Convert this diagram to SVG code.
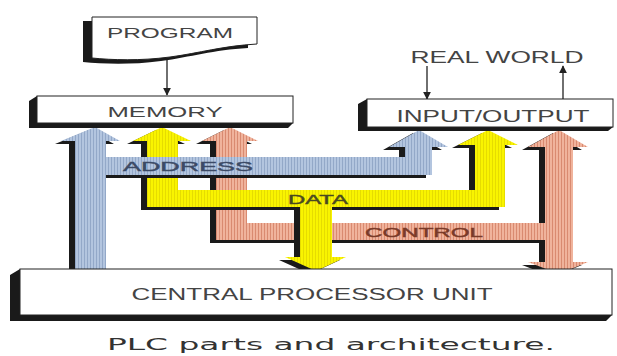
<svg xmlns="http://www.w3.org/2000/svg" width="617" height="356" viewBox="0 0 617 356">
<defs>
<pattern id="pBlue" patternUnits="userSpaceOnUse" width="3" height="10"><rect width="3" height="10" fill="#b3c5df"/><rect width="1" height="10" fill="#93a8c8"/></pattern>
<pattern id="pYel" patternUnits="userSpaceOnUse" width="3" height="10"><rect width="3" height="10" fill="#f9f400"/><rect width="1" height="10" fill="#e6dc00"/></pattern>
<pattern id="pSal" patternUnits="userSpaceOnUse" width="3" height="10"><rect width="3" height="10" fill="#f0b39c"/><rect width="1" height="10" fill="#d98a70"/></pattern>
<marker id="ah" viewBox="0 0 10 10" refX="9" refY="5" markerWidth="8" markerHeight="8" markerUnits="userSpaceOnUse" orient="auto"><path d="M0,0 L10,5 L0,10 Z" fill="#222"/></marker>
</defs>
<style>
.face{fill:#fff;stroke:#222;stroke-width:1}
.shd{fill:#1a1a1a}
.lbl{font-family:"Liberation Sans",Arial,sans-serif;fill:#444;text-anchor:middle}
.bus{font-family:"Liberation Sans",Arial,sans-serif;text-anchor:middle;stroke-width:0.4}
.ln{stroke:#222;stroke-width:1.3;fill:none}
</style>
<rect width="617" height="356" fill="#fff"/>

<g id="connectors">
  <g id="control-bus">
    <polygon class="shd" transform="translate(-6,3)" points="230,127 258,141 247,141 247,223 545,223 545,147 528,147 559,130 588,147 573,147 573,262 588,262 559,274 528,262 545,262 545,240 216,240 216,141 202,141"/>
    <polygon fill="url(#pSal)" points="230,127 258,141 247,141 247,223 545,223 545,147 528,147 559,130 588,147 573,147 573,262 588,262 559,274 528,262 545,262 545,240 216,240 216,141 202,141"/>
    <text class="bus" x="424" y="237" font-size="13" fill="#7a3a28" stroke="#7a3a28" textLength="118" lengthAdjust="spacingAndGlyphs">CONTROL</text>
  </g>
  <g id="data-bus">
    <polygon class="shd" transform="translate(-6,3)" points="162,127 191,141 178,141 178,190 475,190 475,145 458,145 488,130 518,145 505,145 505,207 332,207 332,257 346,257 316,271 285,257 300,257 300,207 147,207 147,141 133,141"/>
    <polygon fill="url(#pYel)" points="162,127 191,141 178,141 178,190 475,190 475,145 458,145 488,130 518,145 505,145 505,207 332,207 332,257 346,257 316,271 285,257 300,257 300,207 147,207 147,141 133,141"/>
    <text class="bus" x="318" y="204" font-size="12" fill="#4a4a20" stroke="#4a4a20" textLength="60" lengthAdjust="spacingAndGlyphs">DATA</text>
  </g>
  <g id="address-bus">
    <polygon class="shd" transform="translate(-6,3)" points="95,127 120,141 106,141 106,157 405,157 405,147 389,147 419,130 448,147 432,147 432,175 106,175 106,269 75,269 75,141 61,141"/>
    <polygon fill="url(#pBlue)" points="95,127 120,141 106,141 106,157 405,157 405,147 389,147 419,130 448,147 432,147 432,175 106,175 106,269 75,269 75,141 61,141"/>
    <text class="bus" x="188" y="171" font-size="13" fill="#3c4a66" stroke="#3c4a66" textLength="130" lengthAdjust="spacingAndGlyphs">ADDRESS</text>
  </g>
  <line class="ln" x1="167" y1="60" x2="167" y2="95" marker-end="url(#ah)"/>
  <line class="ln" x1="427" y1="66" x2="427" y2="99" marker-end="url(#ah)"/>
  <line class="ln" x1="563" y1="99" x2="563" y2="66" marker-end="url(#ah)"/>
</g>

<g id="program">
  <path class="shd" transform="translate(-9,4)" d="M92,17 L257,17 L257,44 C222,46 200,53 170,57 C140,61 112,60 92,58 Z"/>
  <path class="face" d="M92,17 L257,17 L257,44 C222,46 200,53 170,57 C140,61 112,60 92,58 Z"/>
  <text class="lbl" x="170" y="38" font-size="14" textLength="126" lengthAdjust="spacingAndGlyphs">PROGRAM</text>
</g>

<g id="memory">
  <polygon class="shd" points="29,101 37,96 37,123 293,123 288,128 29,128"/>
  <rect class="face" x="37" y="96" width="256" height="27"/>
  <text class="lbl" x="165" y="117" font-size="14" textLength="115" lengthAdjust="spacingAndGlyphs">MEMORY</text>
</g>

<g id="real-world">
  <text class="lbl" x="497" y="63" font-size="16" textLength="173" lengthAdjust="spacingAndGlyphs">REAL WORLD</text>
</g>

<g id="io">
  <polygon class="shd" points="358,104 367,99 367,127 613,127 608,131 358,131"/>
  <rect class="face" x="367" y="99" width="246" height="28"/>
  <text class="lbl" x="493" y="122" font-size="17" textLength="193" lengthAdjust="spacingAndGlyphs">INPUT/OUTPUT</text>
</g>

<g id="cpu">
  <polygon class="shd" points="10,275 20,269 20,315 612,315 606,321 10,321"/>
  <rect class="face" x="20" y="269" width="592" height="46"/>
  <text class="lbl" x="312" y="300" font-size="16" textLength="361" lengthAdjust="spacingAndGlyphs">CENTRAL PROCESSOR UNIT</text>
</g>

<text x="331" y="350" font-family="'DejaVu Sans',Verdana,sans-serif" font-size="16" fill="#333" text-anchor="middle" textLength="448" lengthAdjust="spacingAndGlyphs">PLC parts and architecture.</text>
</svg>
